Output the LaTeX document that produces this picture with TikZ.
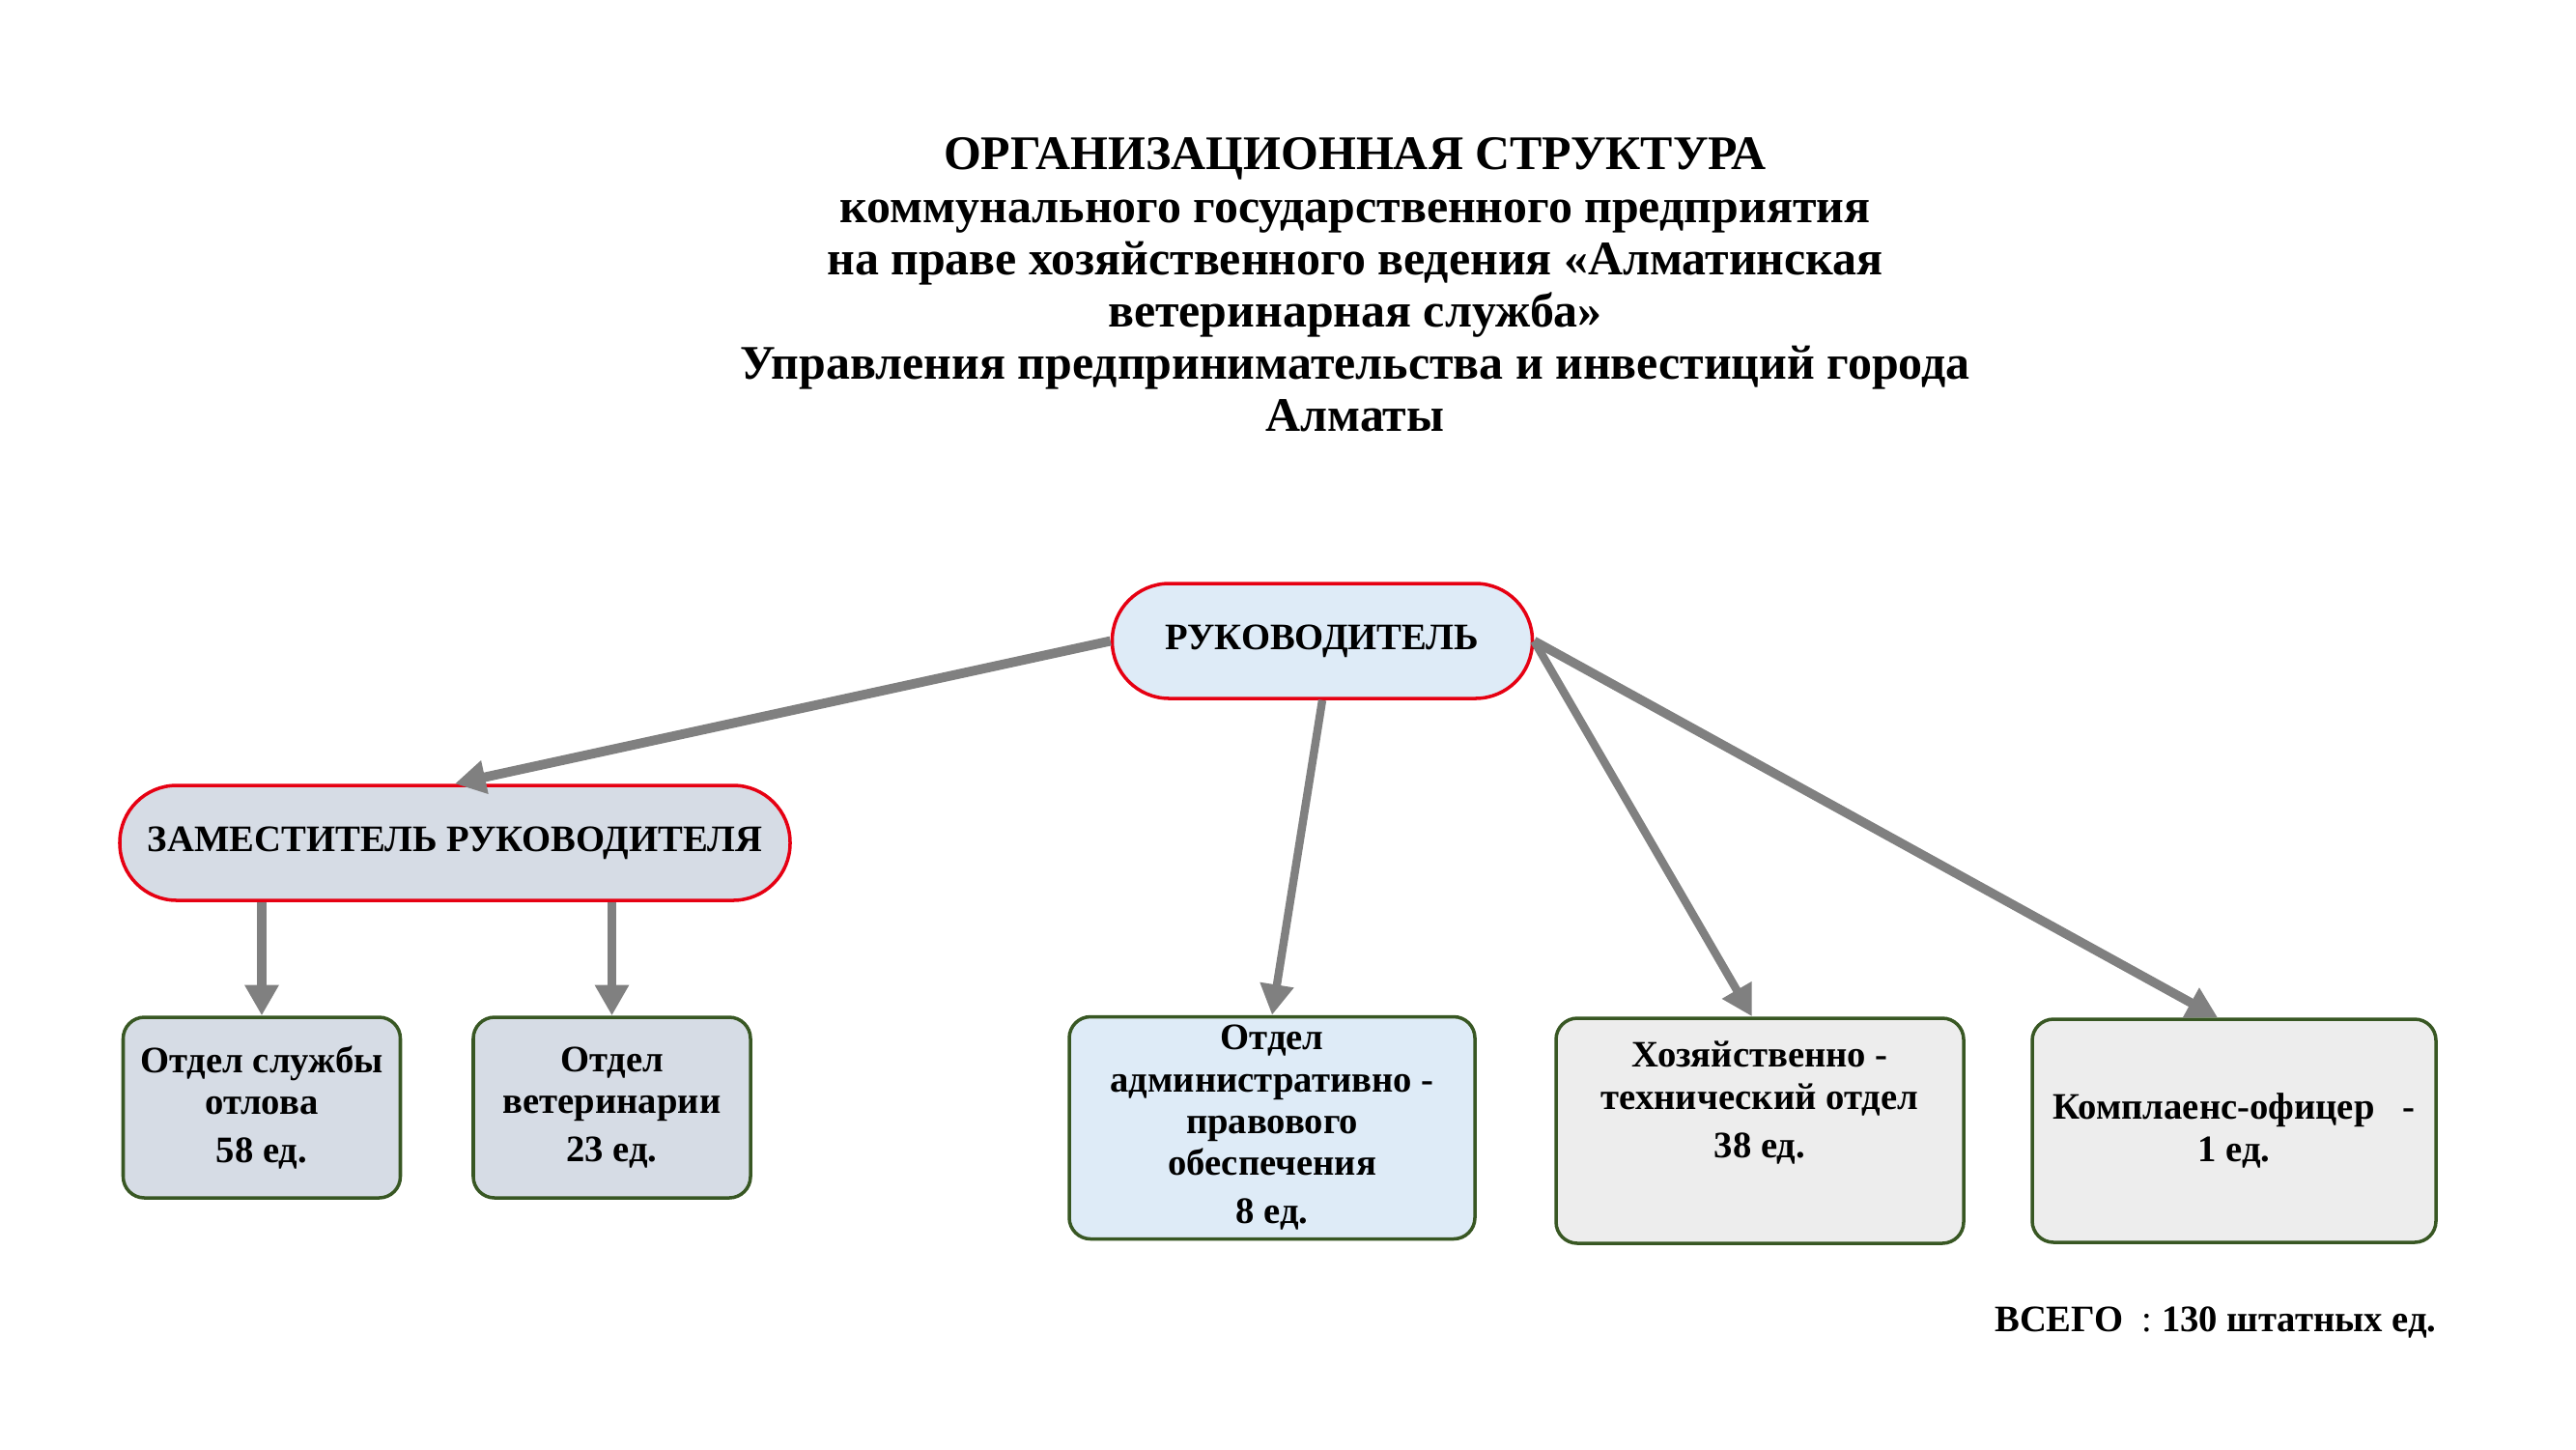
\documentclass[tikz,border=0pt]{standalone}
\usepackage{fontspec}
\setmainfont{Liberation Serif}
\usetikzlibrary{shapes, arrows.meta, positioning}

\definecolor{bossblue}{RGB}{222,235,247}
\definecolor{deputygray}{RGB}{214,220,229}
\definecolor{plaingray}{RGB}{237,237,237}
\definecolor{framered}{RGB}{230,0,18}
\definecolor{framegreen}{RGB}{56,87,35}
\definecolor{arrowgray}{RGB}{128,128,128}

\begin{document}
\begin{tikzpicture}[->,>={Triangle[length=9pt,width=9.5pt]},node distance=2cm]
	\tikzset{
		head/.style={align=center, font=\bfseries\fontsize{14.2}{15.4}\selectfont},
		boss/.style={draw=framered, line width=1pt, rounded corners=0.59cm, minimum height=1.19cm, font=\bfseries\fontsize{11}{12.3}\selectfont},
		dept/.style={draw=framegreen, line width=1pt, rounded corners=0.22cm, align=center, inner ysep=1pt, font=\bfseries\fontsize{11}{12.3}\selectfont},
		total/.style={font=\bfseries\fontsize{11}{12.3}\selectfont},
		link/.style={color=arrowgray, line width=2.4pt}
	}
	\useasboundingbox (0,0) rectangle (26.67,-15);
	\node[head] (title) at (14.03,-2.95) {ОРГАНИЗАЦИОННАЯ СТРУКТУРА\\коммунального государственного предприятия\\на праве хозяйственного ведения «Алматинская\\ветеринарная служба»\\Управления предпринимательства и инвестиций города\\Алматы};
	\node[boss, fill=bossblue, minimum width=4.35cm] (ruk) at (13.69,-6.635) {РУКОВОДИТЕЛЬ};
	\node[boss, fill=deputygray, minimum width=6.94cm] (zam) [below of=ruk, node distance=2.09cm, xshift=-8.98cm] {ЗАМЕСТИТЕЛЬ РУКОВОДИТЕЛЯ};
	\node[dept, fill=deputygray, minimum width=2.87cm, minimum height=1.87cm] (otlov) [below of=zam, node distance=2.74cm, xshift=-2cm] {Отдел службы\\отлова\\[2pt]58 ед.};
	\node[dept, fill=deputygray, minimum width=2.87cm, minimum height=1.87cm] (vet) [right of=otlov, node distance=3.625cm] {Отдел\\ветеринарии\\[2pt]23 ед.};
	\node[dept, fill=bossblue, minimum width=4.2cm, minimum height=2.3cm] (admin) [below of=ruk, node distance=5.04cm, xshift=-0.52cm] {Отдел\\административно -\\правового\\обеспечения\\[2pt]8 ед.};
	\node[dept, fill=plaingray, minimum width=4.22cm, minimum height=2.33cm] (hoz) [right of=admin, node distance=5.05cm, yshift=-0.03cm] {Хозяйственно -\\технический отдел\\[2pt]38 ед.\\[0.21cm]\mbox{}};
	\node[dept, fill=plaingray, minimum width=4.18cm, minimum height=2.31cm] (komp) [right of=hoz, node distance=4.91cm] {Комплаенс-офицер\ \ \ -\\1 ед.};
	\node[total, anchor=east] (sum) at (25.35,-13.69) {ВСЕГО\ \ \textmd{:} 130 штатных ед.};
	\path[link]
		(ruk.west)
			edge[line width=2.8pt] (zam.north)
		(zam.south -| otlov.north)
			edge[line width=2.8pt] (otlov.north)
		(zam.south -| vet.north)
			edge[line width=2.8pt] (vet.north)
		(ruk.south)
			edge (admin.north)
		(ruk.east)
			edge ([xshift=-0.08cm]hoz.north)
			edge[line width=2.7pt] ([xshift=-0.17cm]komp.north);
\end{tikzpicture}
\end{document}
